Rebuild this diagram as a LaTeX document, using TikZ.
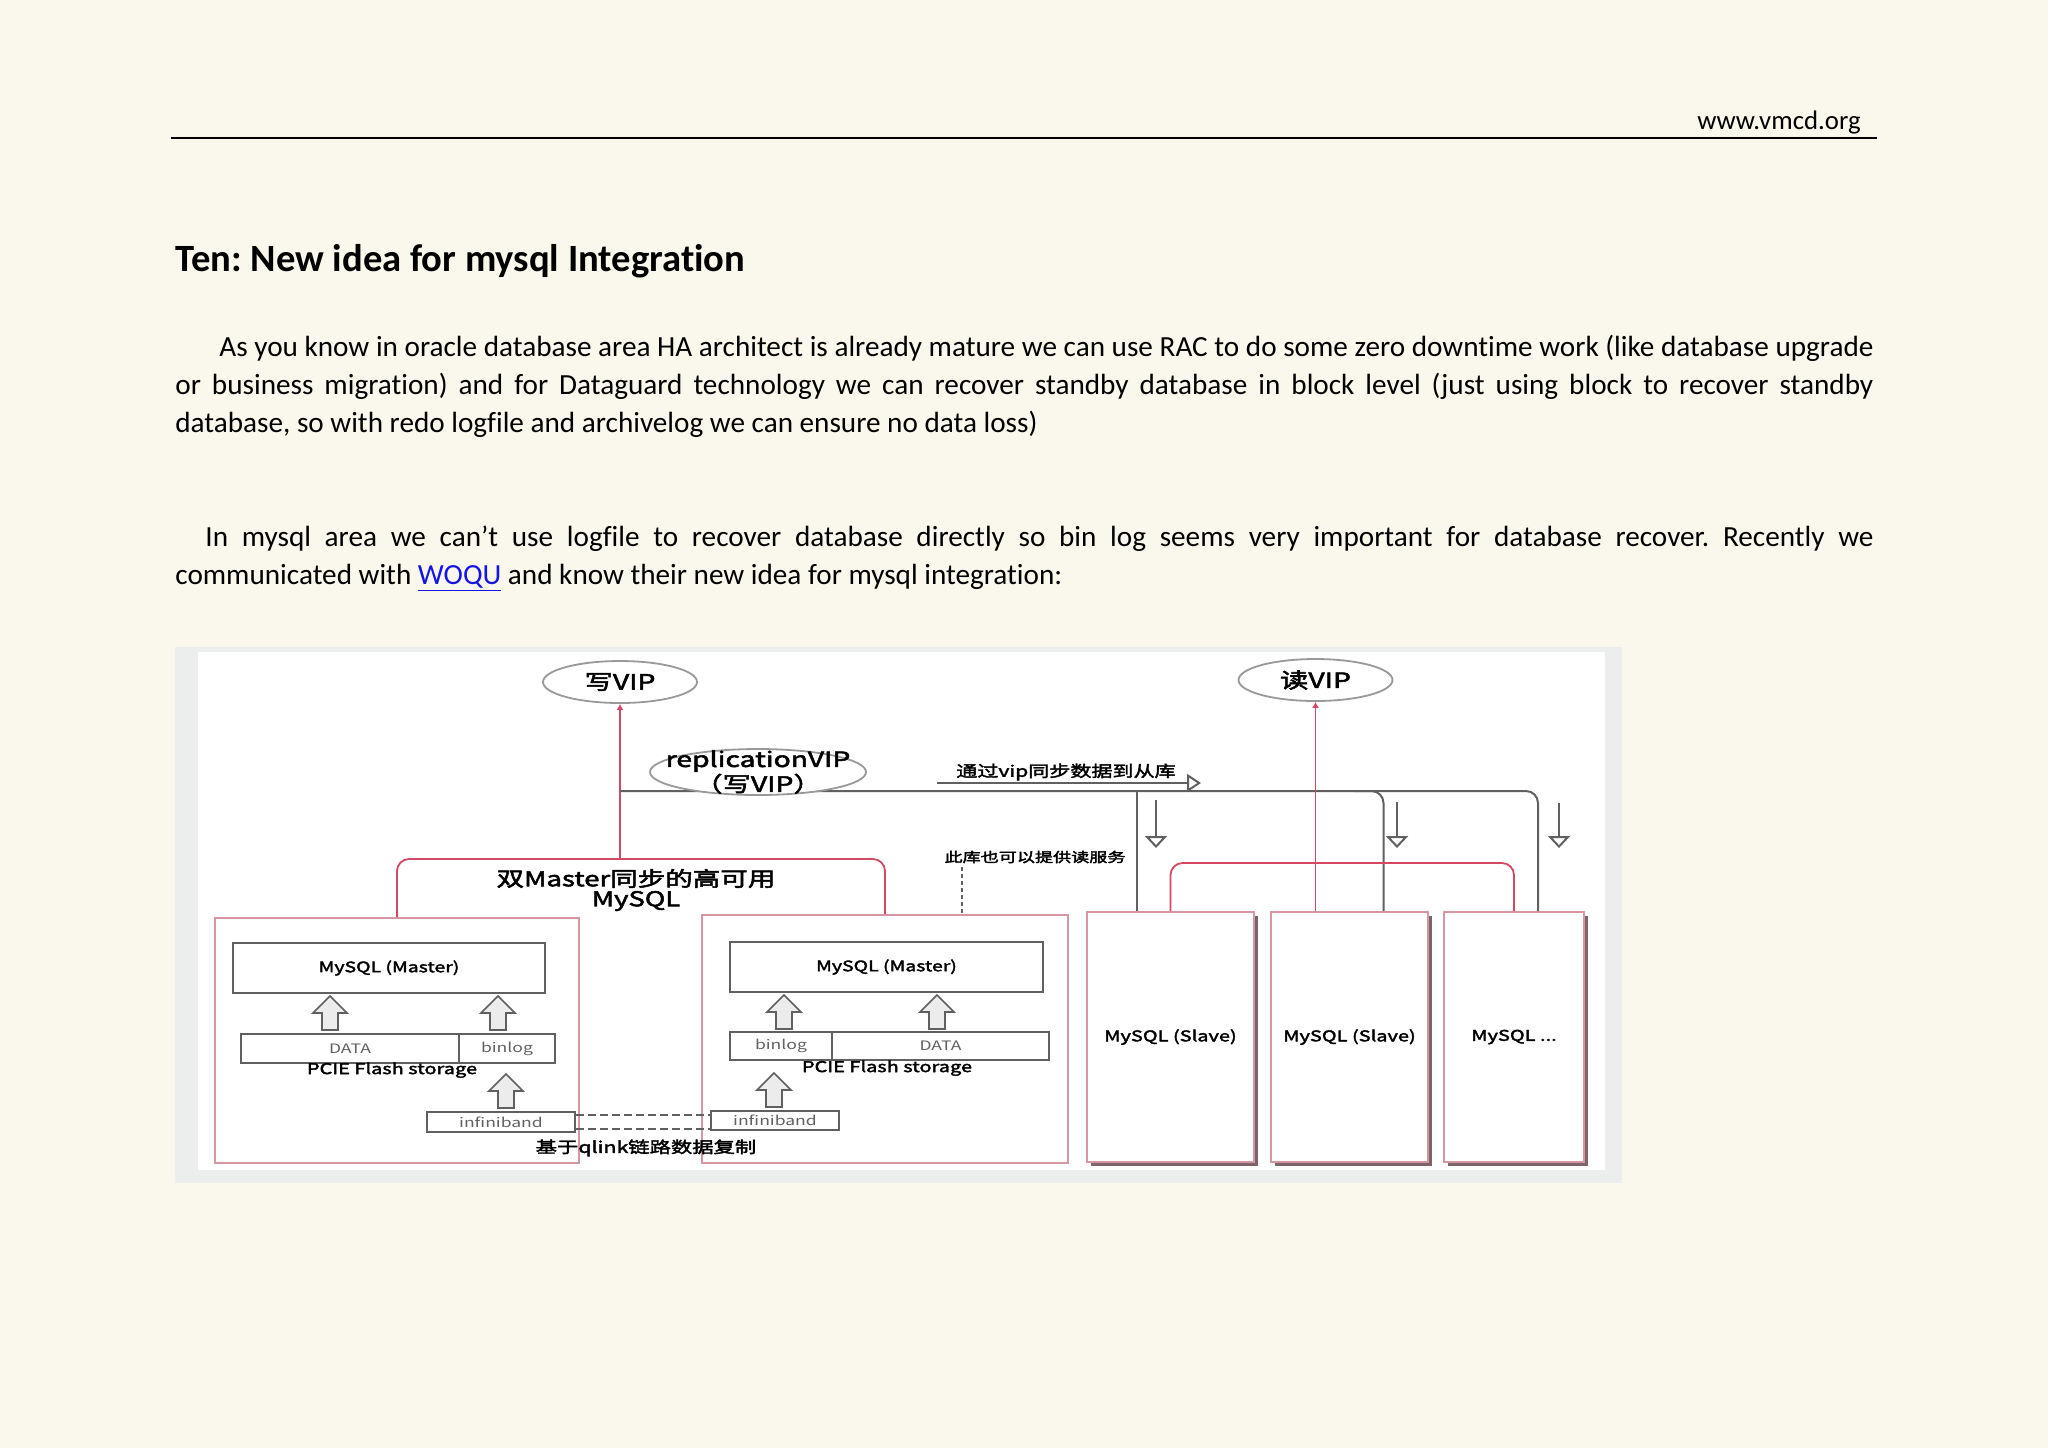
\documentclass[tikz,border=0pt]{standalone}
\usepackage{fontspec}
\setmainfont{Carlito}[Ligatures=NoCommon]
\newfontfamily\dgfont[FakeStretch=1.35,FakeBold=2.5]{Noto Sans CJK SC}
\newfontfamily\dglight[FakeStretch=1.35]{Noto Sans CJK SC}
\usetikzlibrary{arrows.meta,shapes.geometric,shadows,calc}
\definecolor{paper}{RGB}{250,247,236}
\definecolor{framegray}{RGB}{236,238,237}
\definecolor{linkblue}{RGB}{20,20,230}
\definecolor{hared}{RGB}{212,72,98}
\definecolor{hapink}{RGB}{216,150,162}
\definecolor{hagray}{RGB}{96,96,96}
\definecolor{hashadow}{RGB}{125,100,106}
\frenchspacing

\begin{document}
\begin{tikzpicture}[x=0.5pt,y=-0.5pt,>={Latex[length=3pt,width=3.5pt]},
  txt/.style={inner sep=0,anchor=base west,font=\fontsize{14.6}{17}\selectfont},
  vip/.style={ellipse,draw=gray!80,line width=0.9pt,fill=white,inner sep=0,minimum width=77pt,minimum height=21pt,font=\dgfont\fontsize{10.5}{12}\selectfont},
  outbox/.style={draw=hapink,line width=1pt,inner sep=0},
  inbox/.style={draw=hagray,line width=0.9pt,fill=white,inner sep=0,minimum height=25pt,font=\dgfont\fontsize{7.2}{8}\selectfont},
  smbox/.style={draw=hagray,line width=0.9pt,inner sep=0,minimum height=14.5pt,text=gray!75!black,font=\dglight\fontsize{6.5}{7}\selectfont},
  slavebox/.style={draw=hapink,line width=1pt,fill=white,inner sep=0,minimum height=125pt,drop shadow={shadow xshift=2pt,shadow yshift=-2pt,fill=hashadow,opacity=1},font=\dgfont\fontsize{7.4}{8}\selectfont},
  redln/.style={draw=hared,line width=0.9pt},
  grayln/.style={draw=hagray,line width=1pt},
  lbl/.style={inner sep=0,font=\dgfont\fontsize{7.5}{8}\selectfont},
  downar/.style={grayln,-{Triangle[open,length=6pt,width=11pt]}},
  blkup/.pic={\draw[hagray,fill=gray!15,line width=0.8pt] (-8,0) -- (-8,-17) -- (-17,-17) -- (0,-34) -- (17,-17) -- (8,-17) -- (8,0) -- cycle;}]
  % hoja
  \useasboundingbox (0,0) rectangle (2048,1448);
  \fill[paper] (0,0) rectangle (2048,1448);
  \node[txt,anchor=base east,font=\fontsize{13.4}{16}\selectfont] (web) at (1861,129) {www.vmcd.org};
  \draw[line width=1.2pt] (171,138) -- (1877,138);
  \node[txt,font=\bfseries\fontsize{19.3}{22}\selectfont] (title) at (175,271) {Ten: New idea for mysql Integration};
  % texto
  \node[txt] (p1a) at (219,356) {\makebox[827pt][s]{As you know in oracle database area HA architect is already mature we can use RAC to do some zero downtime work (like database upgrade}};
  \node[txt] (p1b) at (175,394) {\makebox[849pt][s]{or business migration) and for Dataguard technology we can recover standby database in block level (just using block to recover standby}};
  \node[txt] (p1c) at (175,432) {database, so with redo logfile and archivelog we can ensure no data loss)};
  \node[txt] (p2a) at (205,546) {\makebox[834pt][s]{In mysql area we can’t use logfile to recover database directly so bin log seems very important for database recover. Recently we}};
  \node[txt] (p2b) at (175,584) {communicated with \textcolor{linkblue}{\underline{WOQU}} and know their new idea for mysql integration:};
  % marco de la figura
  \fill[framegray] (175,647) rectangle (1622,1183);
  \fill[white] (198,652) rectangle (1605,1170);
  % dos master
  \node[outbox,minimum width=182pt,minimum height=122.5pt] (mA) at (397,1040.5) {};
  \node[outbox,minimum width=183pt,minimum height=124pt] (mB) at (885,1039) {};
  \node[inbox,minimum width=156pt] (sqlA) at (389,968) {MySQL (Master)};
  \node[smbox,minimum width=109pt] (dA) at (350,1048.5) {DATA};
  \node[smbox,minimum width=48pt] (bA) at (507,1048.5) {binlog};
  \node[lbl,font=\dgfont\fontsize{7.4}{8}\selectfont] (pcA) at (392,1070) {PCIE Flash storage};
  \node[smbox,minimum width=74pt,minimum height=10pt] (ibA) at (501,1122) {infiniband};
  \node[inbox,minimum width=156.5pt] (sqlB) at (886.5,967) {MySQL (Master)};
  \node[smbox,minimum width=51pt,minimum height=14pt] (bB) at (781,1046) {binlog};
  \node[smbox,minimum width=108.5pt,minimum height=14pt] (dB) at (940.5,1046) {DATA};
  \node[lbl,font=\dgfont\fontsize{7.4}{8}\selectfont] (pcB) at (887,1068) {PCIE Flash storage};
  \node[smbox,minimum width=64pt,minimum height=9.5pt] (ibB) at (775,1120.5) {infiniband};
  \pic at (330,1030) {blkup};
  \pic at (498,1030) {blkup};
  \pic at (506,1108) {blkup};
  \pic at (784,1029) {blkup};
  \pic at (937,1029) {blkup};
  \pic at (774,1107) {blkup};
  \draw[hagray,line width=0.8pt,dash pattern=on 4pt off 2pt] ([yshift=3.5pt]ibA.east) -- ([yshift=3.5pt]ibA.east -| ibB.west);
  \draw[hagray,line width=0.8pt,dash pattern=on 4pt off 2pt] ([yshift=-3.5pt]ibA.east) -- ([yshift=-3.5pt]ibA.east -| ibB.west);
  \node[lbl,font=\dgfont\fontsize{7.9}{8}\selectfont] (ql) at (646,1148) {基于qlink链路数据复制};
  % bloque HA y VIP de escritura
  \coordinate (hatop) at (636,859);
  \draw[redln,rounded corners=6pt] (mA.north) |- (hatop) -| (mB.north);
  \node[lbl,align=center,font=\dgfont\fontsize{10.2}{10}\selectfont] (ha) at (636,890) {双Master同步的高可用\\MySQL};
  \node[vip] (wvip) at (620,682) {写VIP};
  \draw[redln,->] (wvip.south |- hatop) -- (wvip.south);
  % esclavos
  \node[slavebox,minimum width=83.5pt] (s1) at (1170.5,1037) {MySQL (Slave)};
  \node[slavebox,minimum width=78.5pt] (s2) at (1349.5,1037) {MySQL (Slave)};
  \node[slavebox,minimum width=70pt] (s3) at (1514,1037) {MySQL ...};
  \coordinate (g1) at ([xshift=-17pt]s1.north);
  \coordinate (g2) at ([xshift=17pt]s2.north);
  \coordinate (g3) at ([xshift=12pt]s3.north);
  \coordinate (bus) at (620,791);
  \draw[grayln,rounded corners=6pt] (bus) -| (g3);
  \draw[grayln] (g1 |- bus) -- (g1);
  \draw[grayln,rounded corners=6pt] ($(g2 |- bus)+(-30,0)$) -| (g2);
  \foreach \x/\y in {1156/800,1397/802,1559/803}
    \draw[downar] (\x,\y) -- (\x,848);
  \coordinate (rvc) at (758,772);
  \draw[draw=gray!80,line width=0.9pt,fill=white] (rvc) ellipse [x radius=108,y radius=23];
  \node[lbl,align=center,font=\dgfont\fontsize{10.5}{10}\selectfont] (repvip) at (rvc) {replicationVIP\\（写VIP）};
  \node[lbl,font=\dgfont\fontsize{7.8}{8}\selectfont] (syncl) at (1066,772) {通过vip同步数据到从库};
  \coordinate (sa) at (937,783);
  \coordinate (sb) at (1201,783);
  \draw[grayln,-{Triangle[open,length=7pt,width=9pt]}] (sa) -- (sb);
  % VIP de lectura
  \node[vip] (rvip) at (1315.5,680) {读VIP};
  \coordinate (rtop) at (1341,863);
  \draw[redln,rounded corners=6pt] (s1.north) |- (rtop) -| (s3.north);
  \draw[redln,->] (rvip.south |- s2.north) -- (rvip.south);
  % master que tambien lee
  \node[lbl,font=\dgfont\fontsize{6.7}{8}\selectfont] (rdl) at (1035,857) {此库也可以提供读服务};
  \coordinate (rdx) at (962,867);
  \draw[hagray,line width=0.8pt,dash pattern=on 2pt off 1.5pt] (rdx) -- (rdx |- mB.north);
\end{tikzpicture}
\end{document}
